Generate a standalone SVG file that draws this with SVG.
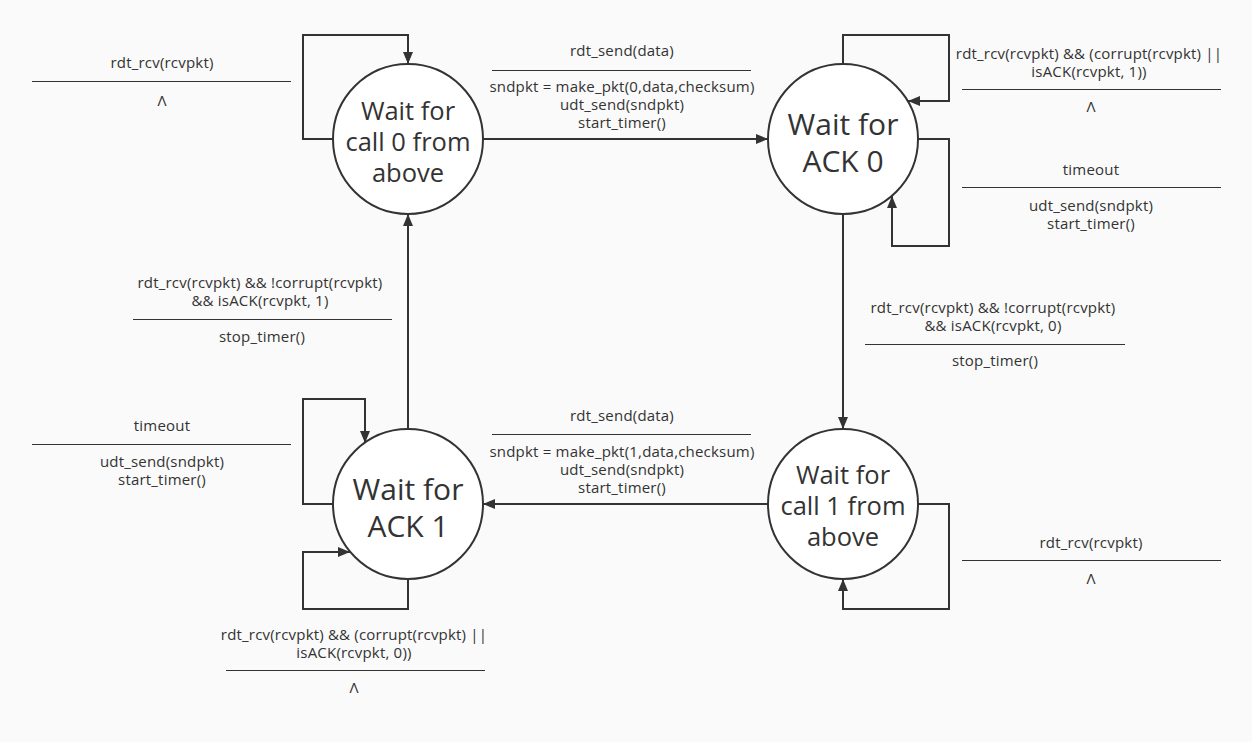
<svg xmlns="http://www.w3.org/2000/svg" width="1252" height="742" viewBox="0 0 1252 742">
<defs>
<marker id="arr" viewBox="0 0 12 10" refX="12" refY="5" markerWidth="12" markerHeight="10" markerUnits="userSpaceOnUse" orient="auto">
<path d="M0,0 L12,5 L0,10 Z" fill="#333333"/>
</marker>
<style>
.edge{fill:none;stroke:#333333;stroke-width:2;marker-end:url(#arr)}
.state{fill:#ffffff;stroke:#333333;stroke-width:2}
.st{font-family:"Open Sans","Noto Sans",sans-serif;font-size:25.5px;fill:#333333;text-anchor:middle}
.stb{font-family:"Open Sans","Noto Sans",sans-serif;font-size:30px;fill:#333333;text-anchor:middle}
.lbl{font-family:"Open Sans","Noto Sans",sans-serif;font-size:15px;letter-spacing:0.2px;fill:#333333;text-anchor:middle}
.rule{stroke:#333333;stroke-width:1}
</style>
</defs>
<rect x="0" y="0" width="1252" height="742" fill="#fafafa"/>
<g id="connectors">
<path class="edge" d="M483,139 H768"/>
<path class="edge" d="M843,214 V429"/>
<path class="edge" d="M768,504 H483"/>
<path class="edge" d="M408,429 V214"/>
<path class="edge" d="M333,139 H303 V35 H408 V64"/>
<path class="edge" d="M843,64 V35 H949 V101 H908"/>
<path class="edge" d="M918,139 H949 V246 H892 V196"/>
<path class="edge" d="M918,504 H949 V609 H843 V579"/>
<path class="edge" d="M333,504 H303 V399 H365 V443"/>
<path class="edge" d="M408,579 V609 H303 V552 H350"/>
</g>
<g id="state-call0">
<circle class="state" cx="408" cy="139" r="75"/>
<text class="st" x="408" y="120">Wait for</text>
<text class="st" x="408" y="151">call 0 from</text>
<text class="st" x="408" y="182">above</text>
</g>
<g id="state-ack0">
<circle class="state" cx="843" cy="139" r="75"/>
<text class="stb" x="843" y="135">Wait for</text>
<text class="stb" x="843" y="172">ACK 0</text>
</g>
<g id="state-call1">
<circle class="state" cx="843" cy="504" r="75"/>
<text class="st" x="843" y="484">Wait for</text>
<text class="st" x="843" y="515">call 1 from</text>
<text class="st" x="843" y="546">above</text>
</g>
<g id="state-ack1">
<circle class="state" cx="408" cy="504" r="75"/>
<text class="stb" x="408" y="500">Wait for</text>
<text class="stb" x="408" y="537">ACK 1</text>
</g>
<g id="label-call0-self">
<text class="lbl" x="162" y="68">rdt_rcv(rcvpkt)</text>
<line class="rule" x1="32" y1="81.5" x2="291" y2="81.5"/>
<text class="lbl" x="162" y="106">Λ</text>
</g>
<g id="label-call0-ack0">
<text class="lbl" x="622" y="56">rdt_send(data)</text>
<line class="rule" x1="492" y1="70.5" x2="751" y2="70.5"/>
<text class="lbl" x="622" y="92">sndpkt = make_pkt(0,data,checksum)</text>
<text class="lbl" x="622" y="110">udt_send(sndpkt)</text>
<text class="lbl" x="622" y="128">start_timer()</text>
</g>
<g id="label-ack0-self1">
<text class="lbl" x="1089" y="59">rdt_rcv(rcvpkt) &amp;&amp; (corrupt(rcvpkt) ||</text>
<text class="lbl" x="1089" y="77">isACK(rcvpkt, 1))</text>
<line class="rule" x1="962" y1="89.5" x2="1221" y2="89.5"/>
<text class="lbl" x="1091" y="112">Λ</text>
</g>
<g id="label-ack0-self2">
<text class="lbl" x="1091" y="175">timeout</text>
<line class="rule" x1="962" y1="187.5" x2="1221" y2="187.5"/>
<text class="lbl" x="1091" y="211">udt_send(sndpkt)</text>
<text class="lbl" x="1091" y="229">start_timer()</text>
</g>
<g id="label-ack0-call1">
<text class="lbl" x="993" y="313">rdt_rcv(rcvpkt) &amp;&amp; !corrupt(rcvpkt)</text>
<text class="lbl" x="993" y="331">&amp;&amp; isACK(rcvpkt, 0)</text>
<line class="rule" x1="865" y1="344.5" x2="1125" y2="344.5"/>
<text class="lbl" x="995" y="366">stop_timer()</text>
</g>
<g id="label-ack1-call0">
<text class="lbl" x="260" y="288">rdt_rcv(rcvpkt) &amp;&amp; !corrupt(rcvpkt)</text>
<text class="lbl" x="260" y="306">&amp;&amp; isACK(rcvpkt, 1)</text>
<line class="rule" x1="133" y1="319.5" x2="392" y2="319.5"/>
<text class="lbl" x="262" y="342">stop_timer()</text>
</g>
<g id="label-ack1-self-top">
<text class="lbl" x="162" y="431">timeout</text>
<line class="rule" x1="32" y1="444.5" x2="291" y2="444.5"/>
<text class="lbl" x="162" y="467">udt_send(sndpkt)</text>
<text class="lbl" x="162" y="485">start_timer()</text>
</g>
<g id="label-call1-ack1">
<text class="lbl" x="622" y="421">rdt_send(data)</text>
<line class="rule" x1="492" y1="434.5" x2="751" y2="434.5"/>
<text class="lbl" x="622" y="457">sndpkt = make_pkt(1,data,checksum)</text>
<text class="lbl" x="622" y="475">udt_send(sndpkt)</text>
<text class="lbl" x="622" y="493">start_timer()</text>
</g>
<g id="label-call1-self">
<text class="lbl" x="1091" y="548">rdt_rcv(rcvpkt)</text>
<line class="rule" x1="962" y1="560.5" x2="1221" y2="560.5"/>
<text class="lbl" x="1091" y="584">Λ</text>
</g>
<g id="label-ack1-self-bottom">
<text class="lbl" x="354" y="640">rdt_rcv(rcvpkt) &amp;&amp; (corrupt(rcvpkt) ||</text>
<text class="lbl" x="354" y="658">isACK(rcvpkt, 0))</text>
<line class="rule" x1="226" y1="670.5" x2="485" y2="670.5"/>
<text class="lbl" x="354" y="693">Λ</text>
</g>
</svg>
